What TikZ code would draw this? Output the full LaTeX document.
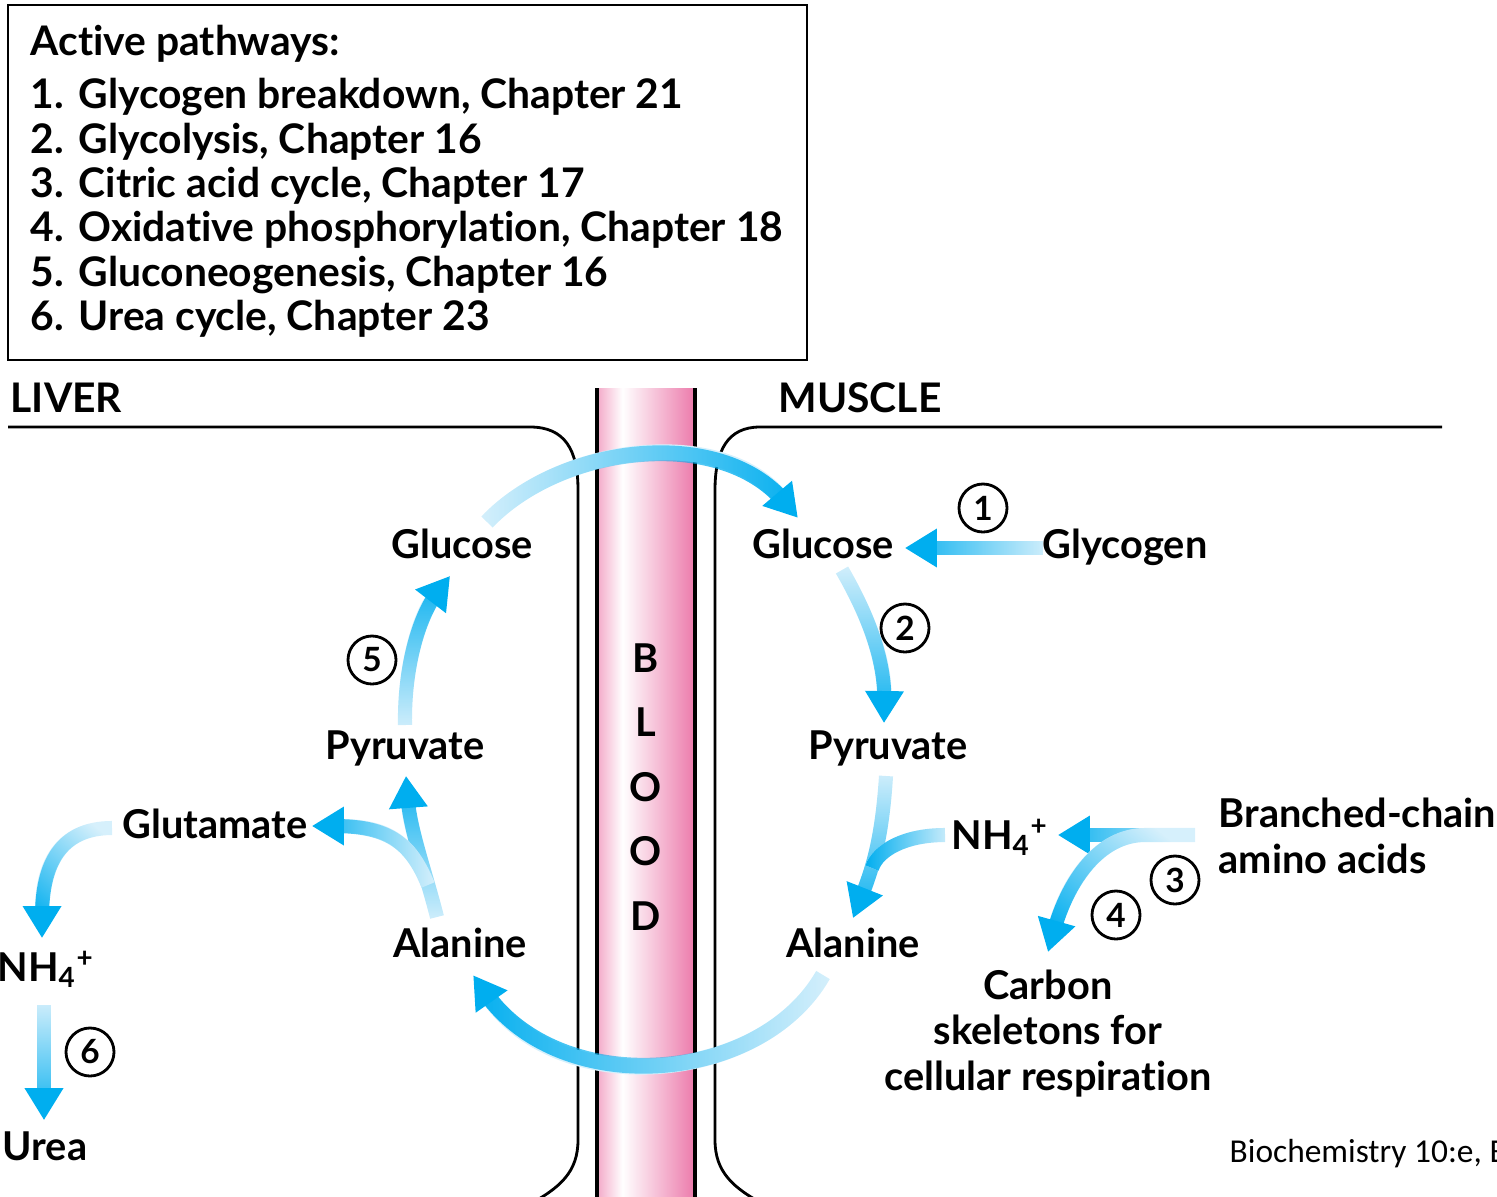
\documentclass[tikz,border=0pt]{standalone}
\usepackage{fontspec}
\setmainfont{Lato}[Ligatures=NoCommon]
\newfontfamily\citefont{Carlito}
\usetikzlibrary{arrows.meta, fadings, shadings, decorations.markings}
\definecolor{flowcyan}{HTML}{00AEEF}
\definecolor{flowlight}{HTML}{D6F0FC}
\definecolor{bloodpink}{HTML}{F3A9C8}
\definecolor{blooddeep}{HTML}{EC7AAB}
\pgfdeclarehorizontalshading{bloodshade}{100bp}{color(0bp)=(bloodpink); color(25bp)=(bloodpink); color(38bp)=(white); color(75bp)=(blooddeep); color(100bp)=(blooddeep)}
\tikzfading[name=flowfade, left color=transparent!100, middle color=transparent!35, right color=transparent!0]
\tikzset{
  lbl/.style={font=\bfseries\fontsize{11.3}{12.8}\selectfont, inner sep=0pt, anchor=base},
  legend/.style={font=\bfseries\fontsize{11.6}{13}\selectfont, inner sep=0pt, anchor=base west},
  tissuelbl/.style={font=\bfseries\fontsize{11.6}{14}\selectfont, inner sep=0pt, anchor=base west},
  num/.style={draw, circle, line width=0.8pt, minimum size=0.48cm, inner sep=0pt, font=\bfseries\fontsize{9.5}{10}\selectfont},
  tissue/.style={line width=0.8pt},
  flowbase/.style={draw=flowlight, shorten >=8pt},
  flowtop/.style={draw=flowcyan, path fading=flowfade, shorten >=6pt},
  flowtip/.style={decoration={markings, mark=at position 0.998 with {\arrow[flowcyan]{Triangle[width=11pt,length=9pt]}}}, postaction={decorate}},
}
\newcommand{\flowarrow}[3][4pt]{%
  \draw[flowbase, line width=#1] #3;
  \draw[flowtop, line width=#1, fading angle=#2] #3;
  \path[flowtip] #3;
}

\begin{document}
\begin{tikzpicture}[x=0.01cm, y=0.01cm]
  \useasboundingbox (0,0) rectangle (1497,-1197);
  \clip (0,0) rectangle (1497,-1197);

  \draw[line width=0.8pt] (8,-5) rectangle (807,-360);
  \node[legend] (title) at (30,-56) {Active pathways:};
  \foreach \txt [count=\i] in {{Glycogen breakdown, Chapter 21}, {Glycolysis, Chapter 16}, {Citric acid cycle, Chapter 17}, {Oxidative phosphorylation, Chapter 18}, {Gluconeogenesis, Chapter 16}, {Urea cycle, Chapter 23}}{
    \node[legend] (n\i) at (30,{-109-44.3*(\i-1)}) {\i.};
    \node[legend] (p\i) at (78,{-109-44.3*(\i-1)}) {\txt};
  }

  \shade[shading=bloodshade] (597,-388) rectangle (695,-1200);
  \draw[line width=1pt] (597,-388) -- (597,-1200) (695,-388) -- (695,-1200);
  \draw[tissue] (8,-427) -- (530,-427) .. controls (565,-427) and (578,-450) .. (578,-490) -- (578,-1140) .. controls (578,-1172) and (560,-1188) .. (528,-1205);
  \draw[tissue] (1442,-427) -- (760,-427) .. controls (728,-427) and (715,-450) .. (715,-490) -- (715,-1140) .. controls (715,-1172) and (733,-1188) .. (765,-1205);
  \node[tissuelbl] (liver) at (10,-412) {LIVER};
  \node[tissuelbl] (muscle) at (778,-412) {MUSCLE};
  \foreach \ch [count=\i] in {B,L,O,O,D}
    \node[lbl] (blood\i) at (646,{-672-64.5*(\i-1)}) {\ch};

  \node[lbl] (lglc) at (462,-558) {Glucose};
  \node[lbl] (lpyr) at (405,-759) {Pyruvate};
  \node[lbl] (glu) at (215,-838) {Glutamate};
  \node[lbl] (lala) at (460,-957) {Alanine};
  \node[lbl] (lnh) at (46,-981) {NH\textsubscript{4}\textsuperscript{+}};
  \node[lbl] (urea) at (45,-1160) {Urea};
  \node[lbl] (mglc) at (823,-558) {Glucose};
  \node[lbl] (gly) at (1125,-558) {Glycogen};
  \node[lbl] (mpyr) at (888,-759) {Pyruvate};
  \node[lbl] (mnh) at (1000,-849) {NH\textsubscript{4}\textsuperscript{+}};
  \node[lbl, anchor=base west, align=left] (bca) at (1218,-873) {Branched-chain\\amino acids};
  \node[lbl] (mala) at (853,-957) {Alanine};
  \node[lbl, align=center] (carb) at (1048,-1090) {Carbon\\skeletons for\\cellular respiration};

  \coordinate (topS) at (487,-522);
  \coordinate (topE) at (798,-518);
  \coordinate (botS) at (823,-975);
  \coordinate (botE) at (473,-975);
  \coordinate (mglcS) at (842,-570);
  \coordinate (mpyrE) at (884,-723);
  \coordinate (glyS) at (1043,-548);
  \coordinate (mglcE) at (905,-548);
  \coordinate (mpyrS) at (886,-776);
  \coordinate (malaE) at (853,-918);
  \coordinate (mnhS) at (945,-835);
  \coordinate (mjoin) at (872,-868);
  \coordinate (bcaS) at (1195,-835);
  \coordinate (mnhE) at (1058,-835);
  \coordinate (carbE) at (1048,-952);
  \coordinate (lalaS) at (437,-917);
  \coordinate (lpyrE) at (406,-776);
  \coordinate (ljoin) at (428,-885);
  \coordinate (gluE) at (312,-826);
  \coordinate (lpyrS) at (405,-725);
  \coordinate (lglcE) at (450,-576);
  \coordinate (gluS) at (112,-828);
  \coordinate (lnhE) at (42,-938);
  \coordinate (lnhS) at (44,-1005);
  \coordinate (ureaE) at (44,-1120);

  \flowarrow[4.5pt]{0}{(topS) .. controls (560,-445) and (720,-425) .. (topE)}
  \flowarrow[4.5pt]{180}{(botS) .. controls (760,-1085) and (560,-1100) .. (botE)}
  \flowarrow{-90}{(mglcS) .. controls (868,-615) and (885,-660) .. (mpyrE)}
  \flowarrow{180}{(glyS) -- (mglcE)}
  \flowarrow{-90}{(mpyrS) .. controls (882,-840) and (872,-870) .. (malaE)}
  \draw[flowbase, line width=4pt, shorten >=0pt] (mnhS) .. controls (905,-835) and (878,-850) .. (mjoin);
  \draw[flowtop, line width=4pt, shorten >=0pt, fading angle=180] (mnhS) .. controls (905,-835) and (878,-850) .. (mjoin);
  \flowarrow{180}{(bcaS) -- (mnhE)}
  \flowarrow{225}{(bcaS) -- (1145,-835) .. controls (1100,-835) and (1068,-880) .. (carbE)}
  \flowarrow{90}{(lalaS) .. controls (425,-870) and (410,-830) .. (lpyrE)}
  \flowarrow{180}{(ljoin) .. controls (410,-840) and (385,-826) .. (gluE)}
  \flowarrow{90}{(lpyrS) .. controls (404,-665) and (420,-615) .. (lglcE)}
  \flowarrow{240}{(gluS) .. controls (60,-828) and (42,-865) .. (lnhE)}
  \flowarrow{-90}{(lnhS) -- (ureaE)}

  \foreach \k/\x/\y in {1/983/-508, 2/905/-628, 3/1175/-880, 4/1116/-915, 5/372/-660, 6/90/-1052}
    \node[num] (c\k) at (\x,\y) {\k};

  \node[anchor=base west, inner sep=0pt, font=\citefont\fontsize{9.5}{11}\selectfont] (cite) at (1229,-1162) {Biochemistry 10:e, B};
\end{tikzpicture}
\end{document}
